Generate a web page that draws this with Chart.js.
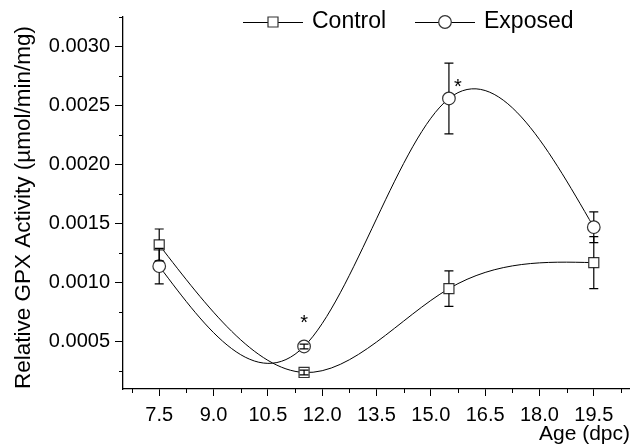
<!DOCTYPE html>
<html>
<head>
<meta charset="utf-8">
<title>Relative GPX Activity</title>
<script src="https://cdn.jsdelivr.net/npm/chart.js@4.4.1/dist/chart.umd.min.js"></script>
<style>
    html, body { margin: 0; padding: 0; background: #fff; }
    #wrap { width: 630px; height: 447px; }
</style>
</head>
<body>
<div id="wrap"><canvas id="gpxChart" width="630" height="447"></canvas></div>
<script>
// Age of the embryos (dpc)
const ages = [7.5, 11.5, 15.5, 19.5]

// GPX activity, mean and error (umol/min/mg)
const controlValues = [0.00132, 0.00024, 0.00095, 0.00117]
const controlErrors = [0.000135, 0.00002, 0.00015, 0.00022]
const exposedValues = [0.00114, 0.00046, 0.00256, 0.00147]
const exposedErrors = [0.00015, 0.00002, 0.0003, 0.00013]

// significance marks (*)
const starAges = [11.5, 15.75]
const starValues = [0.00069, 0.00269]

// axis ticks
const xTicks = [7.5, 9.0, 10.5, 12.0, 13.5, 15.0, 16.5, 18.0, 19.5]
const xMinorTicks = [6.75, 8.25, 9.75, 11.25, 12.75, 14.25, 15.75, 17.25, 18.75, 20.25]
const yTicks = [0.0005, 0.0010, 0.0015, 0.0020, 0.0025, 0.0030]
const yMinorTicks = [0.00025, 0.00075, 0.00125, 0.00175, 0.00225, 0.00275, 0.00325]

const FONT = "'Liberation Sans', Arial, Helvetica, sans-serif"

function toPoints(values) {
    return values.map((v, i) => ({ x: ages[i], y: v }))
}

// slopes of a natural cubic spline through the points (like Origin's "spline" line)
function splineSlopes(xs, ys) {
    const n = xs.length
    const h = [], a = [], b = [], c = [], d = []
    const M = new Array(n).fill(0)
    for (let i = 0; i < n - 1; i++) h[i] = xs[i + 1] - xs[i]
    for (let i = 1; i < n - 1; i++) {
        a[i] = h[i - 1]
        b[i] = 2 * (h[i - 1] + h[i])
        c[i] = h[i]
        d[i] = 6 * ((ys[i + 1] - ys[i]) / h[i] - (ys[i] - ys[i - 1]) / h[i - 1])
    }
    for (let i = 2; i < n - 1; i++) {
        const w = a[i] / b[i - 1]
        b[i] -= w * c[i - 1]
        d[i] -= w * d[i - 1]
    }
    for (let i = n - 2; i >= 1; i--) {
        M[i] = (d[i] - c[i] * M[i + 1]) / b[i]
    }
    const m = []
    for (let i = 0; i < n - 1; i++) {
        m[i] = (ys[i + 1] - ys[i]) / h[i] - h[i] * (2 * M[i] + M[i + 1]) / 6
    }
    m[n - 1] = (ys[n - 1] - ys[n - 2]) / h[n - 2] + h[n - 2] * (2 * M[n - 1] + M[n - 2]) / 6
    return m
}

// put the bezier control points of each line on the spline
const splinePlugin = {
    id: 'spline',
    beforeDatasetDraw(chart, args) {
        const meta = args.meta
        const line = meta.dataset
        const xs = chart.scales.x
        const ys = chart.scales.y
        line.updateControlPoints(chart.chartArea, 'x')
        const data = chart.data.datasets[args.index].data
        const px = data.map(p => p.x)
        const py = data.map(p => p.y)
        const m = splineSlopes(px, py)
        meta.data.forEach((el, i) => {
            if (i > 0) {
                const h = px[i] - px[i - 1]
                el.cp1x = xs.getPixelForValue(px[i] - h / 3)
                el.cp1y = ys.getPixelForValue(py[i] - m[i] * h / 3)
            }
            if (i < px.length - 1) {
                const h = px[i + 1] - px[i]
                el.cp2x = xs.getPixelForValue(px[i] + h / 3)
                el.cp2y = ys.getPixelForValue(py[i] + m[i] * h / 3)
            }
        })
        line._path = undefined
    }
}

// error bars, drawn from the marker edge outwards
const errorBarPlugin = {
    id: 'errorBars',
    afterDatasetsDraw(chart) {
        const ctx = chart.ctx
        const xs = chart.scales.x
        const ys = chart.scales.y
        chart.data.datasets.forEach(ds => {
            const r = ds.markerHalf
            ctx.save()
            ctx.strokeStyle = '#000'
            ctx.lineWidth = 1.2
            ds.data.forEach((pt, i) => {
                const e = ds.errors[i]
                const x = xs.getPixelForValue(pt.x)
                const y = ys.getPixelForValue(pt.y)
                const yTop = ys.getPixelForValue(pt.y + e)
                const yBot = ys.getPixelForValue(pt.y - e)
                ctx.beginPath()
                if (y - yTop > r) {
                    ctx.moveTo(x, yTop); ctx.lineTo(x, y - r)
                    ctx.moveTo(x, y + r); ctx.lineTo(x, yBot)
                } else {
                    ctx.moveTo(x, yTop); ctx.lineTo(x, yBot)
                }
                ctx.moveTo(x - 4.5, yTop); ctx.lineTo(x + 4.5, yTop)
                ctx.moveTo(x - 4.5, yBot); ctx.lineTo(x + 4.5, yBot)
                ctx.stroke()
            })
            ctx.restore()
        })
    }
}

// minor ticks, stars and the legend (line + marker + name)
const extrasPlugin = {
    id: 'extras',
    afterDraw(chart) {
        const ctx = chart.ctx
        const xs = chart.scales.x
        const ys = chart.scales.y
        const area = chart.chartArea

        ctx.save()
        ctx.strokeStyle = '#000'
        ctx.lineWidth = 1
        ctx.beginPath()
        xMinorTicks.forEach(v => {
            const x = Math.round(xs.getPixelForValue(v)) + 0.5
            ctx.moveTo(x, area.bottom); ctx.lineTo(x, area.bottom + 4)
        })
        yMinorTicks.forEach(v => {
            const y = Math.round(ys.getPixelForValue(v)) + 0.5
            ctx.moveTo(area.left, y); ctx.lineTo(area.left - 4, y)
        })
        ctx.stroke()

        // stars
        ctx.fillStyle = '#000'
        ctx.font = '20px ' + FONT
        ctx.textAlign = 'center'
        ctx.textBaseline = 'alphabetic'
        starAges.forEach((a, i) => {
            ctx.fillText('*', xs.getPixelForValue(a), ys.getPixelForValue(starValues[i]) + 10)
        })

        // legend
        const legendAt = [{ x: 243, y: 22 }, { x: 415, y: 22 }]
        ctx.font = '23px ' + FONT
        ctx.textAlign = 'left'
        ctx.textBaseline = 'middle'
        chart.data.datasets.forEach((ds, i) => {
            const p = legendAt[i]
            ctx.strokeStyle = '#000'
            ctx.lineWidth = 1
            ctx.beginPath()
            ctx.moveTo(p.x, p.y + 0.5); ctx.lineTo(p.x + 60, p.y + 0.5)
            ctx.stroke()
            ctx.fillStyle = '#fff'
            ctx.strokeStyle = '#333'
            ctx.lineWidth = 1.2
            ctx.beginPath()
            if (ds.pointStyle === 'rect') {
                ctx.rect(p.x + 30 - 5, p.y - 5, 10, 10)
            } else {
                ctx.arc(p.x + 30, p.y, 6.3, 0, Math.PI * 2)
            }
            ctx.fill()
            ctx.stroke()
            ctx.fillStyle = '#000'
            ctx.fillText(ds.label, p.x + 69, p.y)
        })
        ctx.restore()
    }
}

const ctx = document.getElementById('gpxChart')
new Chart(ctx, {
    type: 'line',
    data: {
        datasets: [
            {
                label: 'Control',
                data: toPoints(controlValues),
                errors: controlErrors,
                markerHalf: 5,
                borderColor: '#000',
                borderWidth: 1,
                tension: 0.4,
                pointStyle: 'rect',
                pointRadius: 7.1,
                pointBackgroundColor: '#fff',
                pointBorderColor: '#333',
                pointBorderWidth: 1.2
            },
            {
                label: 'Exposed',
                data: toPoints(exposedValues),
                errors: exposedErrors,
                markerHalf: 6.3,
                borderColor: '#000',
                borderWidth: 1,
                tension: 0.4,
                pointStyle: 'circle',
                pointRadius: 6.3,
                pointBackgroundColor: '#fff',
                pointBorderColor: '#333',
                pointBorderWidth: 1.2
            }
        ]
    },
    options: {
        responsive: false,
        animation: false,
        devicePixelRatio: 1,
        layout: { autoPadding: false, padding: { top: 16, right: 0, bottom: 0, left: 0 } },
        plugins: {
            legend: { display: false },
            tooltip: { enabled: false }
        },
        scales: {
            x: {
                type: 'linear',
                min: 6.5,
                max: 20.5,
                afterBuildTicks: scale => { scale.ticks = xTicks.map(v => ({ value: v })) },
                afterFit: scale => {
                    scale.height = 58
                    scale.paddingLeft = 0
                    scale.paddingRight = 0
                },
                border: { display: true, color: '#000', width: 1.3 },
                grid: { drawOnChartArea: false, drawTicks: true, tickLength: 7, tickColor: '#000', tickWidth: 1 },
                ticks: {
                    color: '#000',
                    font: { family: FONT, size: 20 },
                    padding: 7,
                    maxRotation: 0,
                    autoSkip: false,
                    callback: v => v.toFixed(1)
                },
                title: {
                    display: true,
                    text: 'Age (dpc)',
                    align: 'end',
                    color: '#000',
                    font: { family: FONT, size: 21 },
                    padding: { top: 0, bottom: 0 }
                }
            },
            y: {
                min: 0.0001,
                max: 0.00325,
                afterBuildTicks: scale => { scale.ticks = yTicks.map(v => ({ value: v })) },
                afterFit: scale => { scale.width = 123 },
                border: { display: true, color: '#000', width: 1.3 },
                grid: { drawOnChartArea: false, drawTicks: true, tickLength: 8, tickColor: '#000', tickWidth: 1 },
                ticks: {
                    color: '#000',
                    font: { family: FONT, size: 20 },
                    padding: 5,
                    autoSkip: false,
                    callback: v => v.toFixed(4)
                },
                title: {
                    display: true,
                    text: 'Relative GPX Activity (µmol/min/mg)',
                    align: 'start',
                    color: '#000',
                    font: { family: FONT, size: 22.5 },
                    padding: { top: 10, bottom: 0 }
                }
            }
        }
    },
    plugins: [splinePlugin, errorBarPlugin, extrasPlugin]
})
</script>
</body>
</html>
